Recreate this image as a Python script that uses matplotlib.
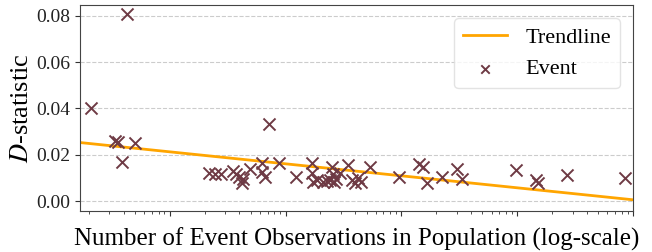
import numpy as np
import matplotlib
matplotlib.use("Agg")
import matplotlib.pyplot as plt

observations = [2.1, 4.3, 3.4, 3.6, 5.0, 3.9, 21.7, 24.5, 27.6, 35, 37, 39.5,
                41.9, 43, 49, 62, 62, 67, 72, 87, 122, 168, 168, 172, 186,
                209, 227, 241, 250, 256, 260, 271, 294, 344, 373, 396, 420,
                446, 540, 950, 1413, 1531, 1657, 2232, 3008, 3323, 9727,
                14480, 15080, 26800, 85000]
d_stat = [0.0403, 0.0808, 0.0259, 0.0255, 0.0251, 0.0168, 0.0123, 0.0115,
          0.0115, 0.0130, 0.0117, 0.0102, 0.0079, 0.0094, 0.0140, 0.0164,
          0.0127, 0.0105, 0.0335, 0.0164, 0.0104, 0.0165, 0.0121, 0.0084,
          0.0093, 0.0083, 0.0086, 0.0091, 0.0145, 0.0117, 0.0083, 0.0094,
          0.0121, 0.0156, 0.0091, 0.0080, 0.0099, 0.0083, 0.0148, 0.0102,
          0.0159, 0.0145, 0.0080, 0.0102, 0.0138, 0.0094, 0.0135, 0.0093,
          0.0078, 0.0112, 0.0098]

x_range = (1.68, 1e5)

plt.rcParams['font.family'] = ['Liberation Serif', 'DejaVu Serif']
plt.rcParams['mathtext.fontset'] = 'stix'

fig = plt.figure(figsize=(6.52, 2.52), dpi=100)
ax = fig.add_axes([0.1227, 0.1627, 0.971 - 0.1227, 0.980 - 0.1627])

# log-linear trendline
coef = np.polyfit(np.log10(observations), d_stat, 1)
xs = np.logspace(np.log10(x_range[0]), np.log10(x_range[1]), 100)
ax.plot(xs, np.polyval(coef, np.log10(xs)), color='orange', lw=2, label='Trendline', zorder=2)
ax.scatter(observations, d_stat, marker='x', s=75, color='#6e3a44', linewidths=1.4,
           label='Event', zorder=3)

ax.set_xscale('log')
ax.set_xlim(*x_range)
ax.set_ylim(-0.0043, 0.0847)
ax.set_yticks([0.0, 0.02, 0.04, 0.06, 0.08])
ax.set_yticklabels(['0.00', '0.02', '0.04', '0.06', '0.08'])
ax.xaxis.set_major_formatter(matplotlib.ticker.NullFormatter())
ax.xaxis.set_minor_formatter(matplotlib.ticker.NullFormatter())
ax.tick_params(axis='y', labelsize=14, colors='#333333', labelcolor='#222222')
ax.tick_params(axis='x', which='both', colors='#333333')
ax.grid(axis='y', linestyle='--', color='#cccccc', lw=0.8)
ax.set_axisbelow(True)
for s in ax.spines.values():
    s.set_color('#444444')

ax.set_xlabel('Number of Event Observations in Population (log-scale)', fontsize=18, labelpad=5)
ax.set_ylabel('$D$-statistic', fontsize=19, labelpad=2)
leg = ax.legend(loc='upper right', fontsize=16, frameon=True, edgecolor='#dddddd',
                markerscale=0.7, borderaxespad=0.6)

fig.savefig('out.png', dpi=100)
